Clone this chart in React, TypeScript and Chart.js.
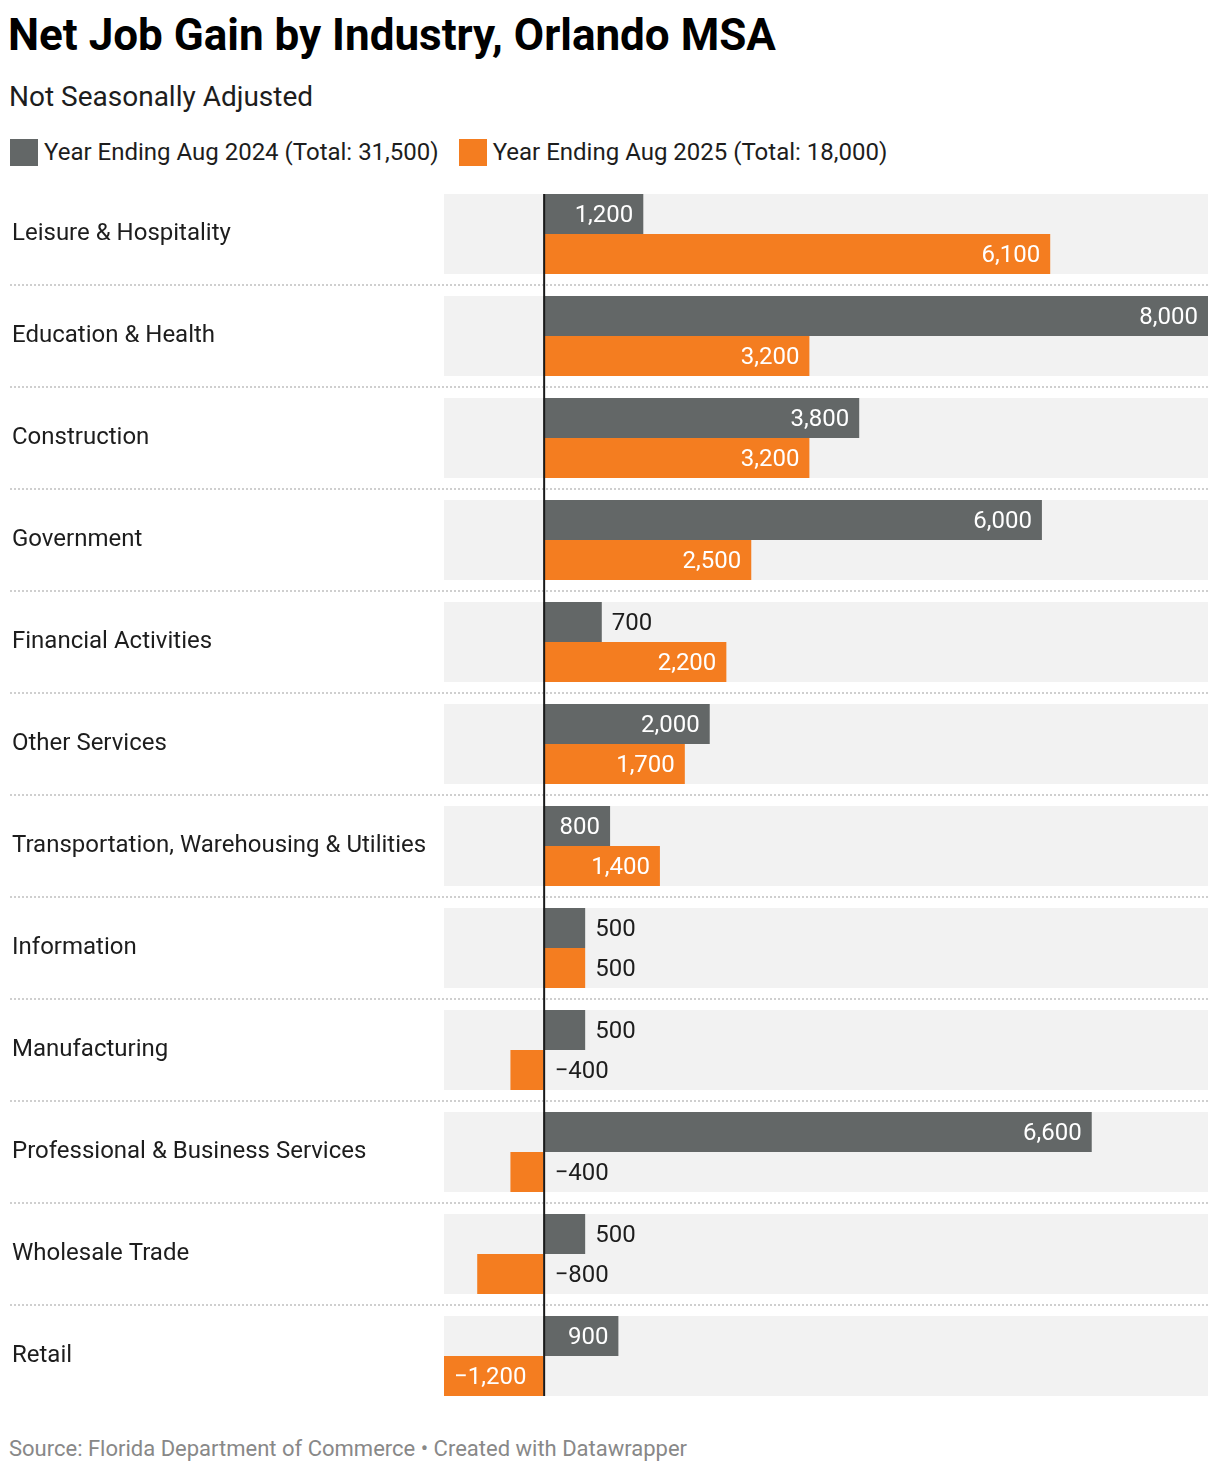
import React, { useEffect, useRef } from "react";
import { Chart, registerables } from "chart.js";

Chart.register(...registerables);

const categories = [
  "Leisure & Hospitality",
  "Education & Health",
  "Construction",
  "Government",
  "Financial Activities",
  "Other Services",
  "Transportation, Warehousing & Utilities",
  "Information",
  "Manufacturing",
  "Professional & Business Services",
  "Wholesale Trade",
  "Retail",
];
const values2024 = [1200, 8000, 3800, 6000, 700, 2000, 800, 500, 500, 6600, 500, 900];
const values2025 = [6100, 3200, 3200, 2500, 2200, 1700, 1400, 500, -400, -400, -800, -1200];
const seriesLabels = [
  "Year Ending Aug 2024 (Total: 31,500)",
  "Year Ending Aug 2025 (Total: 18,000)",
];
const seriesColors = ["#636767", "#f47d20"];
const xMin = -1200;
const xMax = 8000;

const TITLE = "Net Job Gain by Industry, Orlando MSA";
const SUBTITLE = "Not Seasonally Adjusted";
const SOURCE = "Source: Florida Department of Commerce \u2022 Created with Datawrapper";

const FONT = "Roboto, 'Noto Sans', Arial, sans-serif";
const CAT_PCT = 80 / 102;

function fmt(v: number): string {
  const s = Math.abs(v).toLocaleString("en-US");
  return v < 0 ? "\u2212" + s : s;
}

const rowPlugin = {
  id: "rowDecor",
  beforeDatasetsDraw(chart: any) {
    const { ctx, chartArea, scales } = chart;
    const y = scales.y;
    const n = categories.length;
    const slot = (chartArea.bottom - chartArea.top) / n;
    const band = slot * CAT_PCT;
    ctx.save();
    for (let i = 0; i < n; i++) {
      const c = y.getPixelForValue(i);
      ctx.fillStyle = "#f2f2f2";
      ctx.fillRect(chartArea.left, c - band / 2, chartArea.right - chartArea.left, band);
      if (i < n - 1) {
        const sy = Math.round(c + slot / 2);
        ctx.strokeStyle = "#cfcfcf";
        ctx.lineWidth = 2;
        ctx.setLineDash([2, 2]);
        ctx.beginPath();
        ctx.moveTo(2, sy);
        ctx.lineTo(chartArea.right, sy);
        ctx.stroke();
        ctx.setLineDash([]);
      }
    }
    ctx.restore();
  },
  afterDatasetsDraw(chart: any) {
    const { ctx, chartArea, scales } = chart;
    const x = scales.x;
    const y = scales.y;
    const n = categories.length;
    const slot = (chartArea.bottom - chartArea.top) / n;
    const band = slot * CAT_PCT;
    const zx = x.getPixelForValue(0);
    ctx.save();
    ctx.font = `24px ${FONT}`;
    ctx.textBaseline = "middle";
    chart.data.datasets.forEach((ds: any, di: number) => {
      const meta = chart.getDatasetMeta(di);
      meta.data.forEach((bar: any, i: number) => {
        const v = ds.data[i] as number;
        const text = fmt(v);
        const tw = ctx.measureText(text).width;
        const len = Math.abs(bar.x - bar.base);
        const fits = tw + 20 <= len;
        const ty = bar.y + 1.5;
        if (v >= 0) {
          if (fits) {
            ctx.fillStyle = "#ffffff";
            ctx.textAlign = "right";
            ctx.fillText(text, bar.x - 10, ty);
          } else {
            ctx.fillStyle = "#1d1d1d";
            ctx.textAlign = "left";
            ctx.fillText(text, bar.x + 10, ty);
          }
        } else {
          if (fits) {
            ctx.fillStyle = "#ffffff";
            ctx.textAlign = "left";
            ctx.fillText(text, bar.x + 10, ty);
          } else {
            ctx.fillStyle = "#1d1d1d";
            ctx.textAlign = "left";
            ctx.fillText(text, zx + 11, ty);
          }
        }
      });
    });
    const top = y.getPixelForValue(0) - band / 2;
    const bottom = y.getPixelForValue(n - 1) + band / 2;
    ctx.strokeStyle = "#1a1a1a";
    ctx.lineWidth = 2;
    ctx.beginPath();
    ctx.moveTo(zx + 0.5, top);
    ctx.lineTo(zx + 0.5, bottom);
    ctx.stroke();
    ctx.restore();
  },
};

function BarChart() {
  const ref = useRef<HTMLCanvasElement | null>(null);
  useEffect(() => {
    if (!ref.current) return;
    const chart = new Chart(ref.current, {
      type: "bar",
      data: {
        labels: categories,
        datasets: [
          {
            label: seriesLabels[0],
            data: values2024,
            backgroundColor: seriesColors[0],
            borderWidth: 0,
            categoryPercentage: CAT_PCT,
            barPercentage: 1,
          },
          {
            label: seriesLabels[1],
            data: values2025,
            backgroundColor: seriesColors[1],
            borderWidth: 0,
            categoryPercentage: CAT_PCT,
            barPercentage: 1,
          },
        ],
      },
      options: {
        indexAxis: "y",
        animation: false,
        responsive: true,
        maintainAspectRatio: false,
        layout: { padding: { left: 4, right: 4, top: 0, bottom: 0 } },
        plugins: {
          legend: { display: false },
          tooltip: { enabled: false },
        },
        scales: {
          x: {
            display: false,
            min: xMin,
            max: xMax,
          },
          y: {
            grid: { display: false },
            border: { display: false },
            ticks: {
              crossAlign: "far",
              padding: 0,
              color: "#1d1d1d",
              font: { family: FONT, size: 24 },
            },
            afterFit(scale: any) {
              scale.width = 432;
              scale.paddingTop = 0;
              scale.paddingBottom = 0;
            },
          },
        },
      } as any,
      plugins: [rowPlugin],
    });
    return () => chart.destroy();
  }, []);
  return <canvas ref={ref} />;
}

export default function App() {
  return (
    <div
      style={{
        position: "relative",
        width: 1204,
        height: 1456,
        fontFamily: FONT,
        color: "#1d1d1d",
      }}
    >
      <div
        style={{
          position: "absolute",
          left: 0,
          top: 5,
          fontSize: 44,
          lineHeight: "44px",
          fontWeight: 700,
          color: "#000",
          whiteSpace: "nowrap",
        }}
      >
        {TITLE}
      </div>
      <div
        style={{
          position: "absolute",
          left: 1,
          top: 75,
          fontSize: 28,
          lineHeight: "28px",
          color: "#1d1d1d",
          whiteSpace: "nowrap",
        }}
      >
        {SUBTITLE}
      </div>
      <div
        style={{
          position: "absolute",
          left: 2,
          top: 131,
          height: 27,
          display: "flex",
          alignItems: "center",
          whiteSpace: "nowrap",
        }}
      >
        {seriesLabels.map((l, i) => (
          <div key={i} style={{ display: "flex", alignItems: "center", marginRight: 20 }}>
            <div style={{ width: 28, height: 27, background: seriesColors[i], marginRight: 6 }} />
            <div style={{ fontSize: 24, lineHeight: "24px", position: "relative", top: -1 }}>{l}</div>
          </div>
        ))}
      </div>
      <div style={{ position: "absolute", left: 0, top: 175, width: 1204, height: 1224 }}>
        <BarChart />
      </div>
      <div
        style={{
          position: "absolute",
          left: 1,
          top: 1430,
          fontSize: 22,
          lineHeight: "22px",
          color: "#888888",
          whiteSpace: "nowrap",
        }}
      >
        {SOURCE}
      </div>
    </div>
  );
}
